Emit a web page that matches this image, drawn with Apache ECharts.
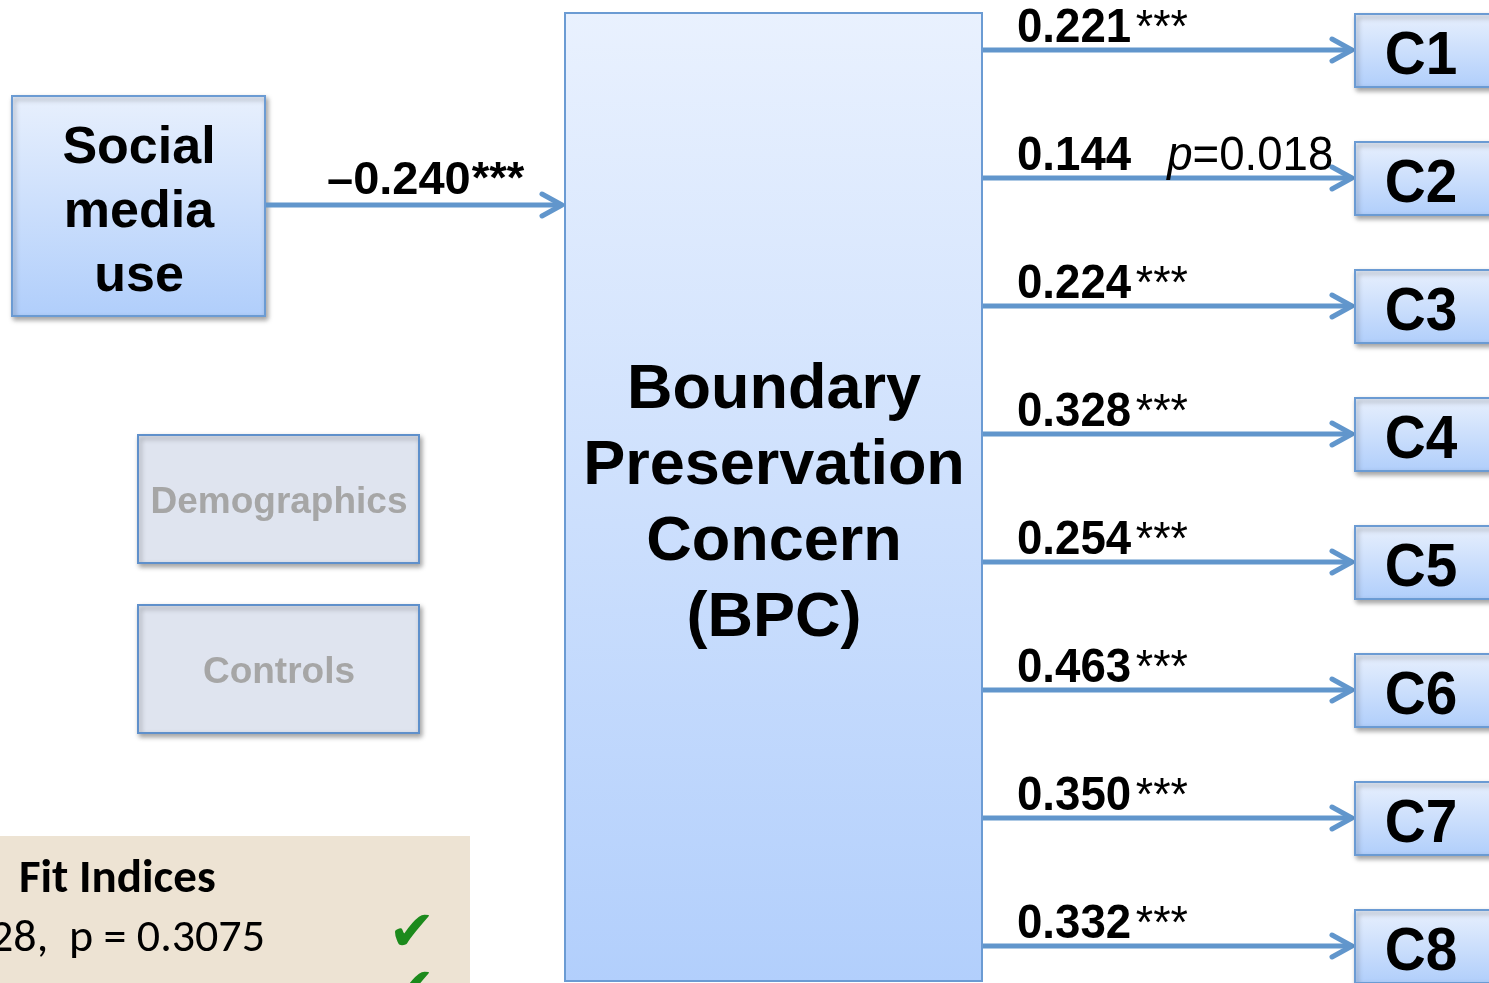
<!DOCTYPE html>
<html>
<head>
<meta charset="utf-8">
<script src="https://cdn.jsdelivr.net/npm/echarts@6/dist/echarts.min.js"></script>
<style>html,body{margin:0;padding:0;background:#fff;}#chart{width:1489px;height:983px;}</style>
</head>
<body>
<div id="chart"></div>
<script>
// ---- data ----
const outcomes = ['C1', 'C2', 'C3', 'C4', 'C5', 'C6', 'C7', 'C8'];
const coefs = [0.221, 0.144, 0.224, 0.328, 0.254, 0.463, 0.350, 0.332];
const sigStars = ['***', '', '***', '***', '***', '***', '***', '***'];
const pValues = [null, 0.018, null, null, null, null, null, null];
const predictorLabel = ['Social\nmedia\nuse'];
const predictorCoef = [-0.240];
const predictorStars = ['***'];
const mediatorLabel = 'Boundary\nPreservation\nConcern\n(BPC)';
const covariates = ['Demographics', 'Controls'];
const fitTitle = 'Fit Indices';
const fitLines = ['χ² = 26.28,  p = 0.3075'];
const fitChecks = ['✔', '✔'];

// ---- styles ----
const FONT = '"Liberation Sans", Arial, Helvetica, sans-serif';
const CAL = 'Carlito, "Open Sans", sans-serif';
const ARROW = '#6196cc';
const BORDER = '#6b9bd3';
function blueGrad() {
  return new echarts.graphic.LinearGradient(0, 0, 0, 1, [
    { offset: 0, color: '#e8f0fd' },
    { offset: 1, color: '#b0cefb' }
  ]);
}
const shadow = { shadowBlur: 5, shadowColor: 'rgba(0,0,0,0.35)', shadowOffsetX: 2, shadowOffsetY: 3 };
function fmt(v) { return (v < 0 ? '–' : '') + Math.abs(v).toFixed(3); }

const chart = echarts.init(document.getElementById('chart'));

const graphics = [
  // mediator box
  { type: 'rect', shape: { x: 565, y: 13, width: 417, height: 968 },
    style: { fill: new echarts.graphic.LinearGradient(0, 0, 0, 1, [
      { offset: 0, color: '#e9f1fe' }, { offset: 1, color: '#b2cffc' }]), stroke: BORDER, lineWidth: 2 } },
  { type: 'text', style: { text: mediatorLabel, x: 774, y: 505, align: 'center', verticalAlign: 'middle',
      font: 'bold 63px ' + FONT, lineHeight: 76, fill: '#000' } },
  // predictor box
  { type: 'rect', shape: { x: 12, y: 96, width: 253, height: 220 },
    style: Object.assign({ fill: blueGrad(), stroke: BORDER, lineWidth: 2 }, shadow) },
  { type: 'text', style: { text: predictorLabel[0], x: 139, y: 213, align: 'center', verticalAlign: 'middle',
      font: 'bold 52px ' + FONT, lineHeight: 64, fill: '#000' } },
  // fit indices panel
  { type: 'rect', shape: { x: -2, y: 836, width: 472, height: 160 }, style: { fill: '#ede3d3' } },
  { type: 'text', style: { text: fitTitle, x: 19, y: 880, align: 'left', verticalAlign: 'middle',
      font: 'bold 47px ' + CAL, fill: '#000' } },
  { type: 'text', style: { text: fitLines[0], x: 265, y: 939, align: 'right', verticalAlign: 'middle',
      font: '46px ' + CAL, fill: '#000' } }
];
covariates.forEach(function (name, k) {
  graphics.push({ type: 'rect', shape: { x: 138, y: 435 + k * 170, width: 281, height: 128 },
    style: Object.assign({ fill: '#dfe4ef', stroke: '#5f90cb', lineWidth: 2 }, shadow) });
  graphics.push({ type: 'text', style: { text: name, x: 279, y: 503 + k * 170, align: 'center', verticalAlign: 'middle',
    font: 'bold 37px ' + FONT, fill: '#a6a6a6' } });
});
fitChecks.forEach(function (c, k) {
  graphics.push({ type: 'text', style: { text: c, x: 412, y: 935 + k * 57, align: 'center', verticalAlign: 'middle',
    font: 'bold 56px "DejaVu Sans", sans-serif', fill: '#1c8a1c' } });
});

function arrow(x1, x2, y) {
  return [
    { type: 'line', shape: { x1: x1, y1: y, x2: x2 - 3, y2: y }, style: { stroke: ARROW, lineWidth: 5 } },
    { type: 'polyline', shape: { points: [[x2 - 20, y - 11], [x2, y], [x2 - 20, y + 11]] },
      style: { stroke: ARROW, lineWidth: 5, fill: null, lineCap: 'round', lineJoin: 'round' } }
  ];
}

chart.setOption({
  animation: false,
  grid: { left: 0, right: 0, top: 50, bottom: 37 },
  xAxis: { type: 'value', min: 0, max: 1489, show: false },
  yAxis: { type: 'category', data: outcomes, boundaryGap: false, inverse: true, show: false },
  graphic: graphics,
  series: [
    {
      type: 'custom',
      coordinateSystem: 'cartesian2d',
      data: coefs.map(function (v, i) { return [v, i]; }),
      clip: false,
      renderItem: function (params, api) {
        const i = params.dataIndex;
        const a = api.coord([983, i]);
        const b = api.coord([1352, i]);
        const y = a[1];
        const children = arrow(a[0], b[0], y);
        children.push({ type: 'rect', shape: { x: 1355, y: y - 36, width: 160, height: 73 },
          style: Object.assign({ fill: blueGrad(), stroke: BORDER, lineWidth: 2 }, shadow) });
        children.push({ type: 'text', x: 1421, y: y + 7, scaleX: 0.93,
          style: { text: outcomes[i], x: 0, y: 0, align: 'center',
          verticalAlign: 'middle', font: 'bold 61px ' + FONT, fill: '#000' } });
        let txt;
        if (pValues[i] != null) {
          txt = '{b|' + fmt(coefs[i]) + '}{i|p}{r|=' + pValues[i].toFixed(3) + '}';
        } else {
          txt = '{b|' + fmt(coefs[i]) + '}{s|' + sigStars[i] + '}';
        }
        children.push({ type: 'text', x: 1017, y: y - 21, scaleX: 0.95,
          style: { text: txt, x: 0, y: 0, align: 'left', verticalAlign: 'middle',
          rich: {
            b: { font: 'bold 48px ' + FONT, fill: '#000' },
            s: { font: '47px ' + FONT, fill: '#000', padding: [0, 0, 0, 5] },
            i: { font: 'italic 48px ' + FONT, fill: '#000', padding: [0, 0, 0, 38] },
            r: { font: '48px ' + FONT, fill: '#000' }
          } } });
        return { type: 'group', children: children };
      }
    },
    {
      type: 'custom',
      coordinateSystem: 'none',
      data: predictorCoef.map(function (v) { return [v]; }),
      renderItem: function (params, api) {
        const y = 205;
        const children = arrow(266, 562, y);
        children.push({ type: 'text', x: 327, y: y - 24,
          style: { text: '{b|' + fmt(predictorCoef[0]) + '}{s|' + predictorStars[0] + '}', x: 0, y: 0,
          align: 'left', verticalAlign: 'middle',
          rich: {
            b: { font: 'bold 47px ' + FONT, fill: '#000' },
            s: { font: 'bold 45px ' + FONT, fill: '#000', padding: [0, 0, 0, 1] }
          } } });
        return { type: 'group', children: children };
      }
    }
  ]
});
</script>
</body>
</html>
